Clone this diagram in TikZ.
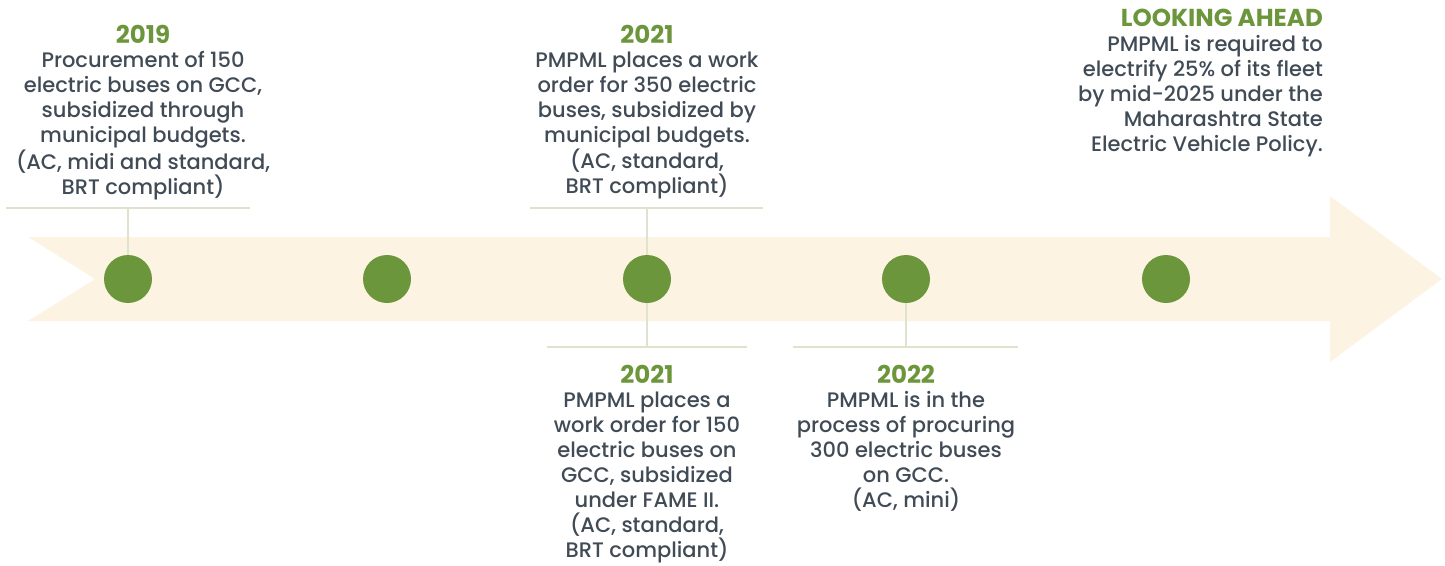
\documentclass[tikz,border=0pt]{standalone}
\usepackage{fontspec}
\setmainfont{Poppins}[UprightFont={* Medium}, BoldFont={* Bold}]
\usepackage{tikz}
\usetikzlibrary{positioning}
\definecolor{green}{RGB}{108,150,60}
\definecolor{slate}{RGB}{64,75,86}
\definecolor{color-arrow}{RGB}{253,243,227}
\definecolor{color-rule}{RGB}{221,227,205}

\begin{document}
\begin{tikzpicture}[x=1pt, y=-1pt, node distance=8pt,
  dot/.style={circle,inner sep=0pt,minimum size=48pt,fill=green,name=#1},
  year/.style={text=green,font=\fontsize{24.5}{28}\selectfont\bfseries,inner sep=0pt},
  body/.style={text=slate,font=\fontsize{21}{25}\selectfont,align=center,inner sep=0pt},
  rule/.style={color-rule,line width=1.3pt}]

\useasboundingbox (0,0) rectangle (1445,565);

% timeline arrow
\fill[color-arrow] (28,237) -- (1330,237) -- (1330,196) -- (1442,279) -- (1330,362)
  -- (1330,321) -- (28,321) -- (95,279) -- cycle;

\coordinate (r1a) at (6,208);
\coordinate (r1b) at (250,208);
\coordinate (r1) at (128,208);
\coordinate (r3a) at (530,208);
\coordinate (r3b) at (763,208);
\coordinate (r3) at (647,208);
\coordinate (r4a) at (547,347);
\coordinate (r4b) at (747,347);
\coordinate (r4) at (647,347);
\coordinate (r5a) at (793,347);
\coordinate (r5b) at (1018,347);
\coordinate (r5) at (906,347);

\node [dot=d1] at (128,279) {};
\node [dot=d2] at (387,279) {};
\node [dot=d3] at (647,279) {};
\node [dot=d4] at (906,279) {};
\node [dot=d5] at (1166,279) {};

\draw [rule] (r1a) -- (r1b);
\draw [rule] (r1) -- (d1);
\draw [rule] (r3a) -- (r3b);
\draw [rule] (r3) -- (d3);
\draw [rule] (d3) -- (r4);
\draw [rule] (r4a) -- (r4b);
\draw [rule] (d4) -- (r5);
\draw [rule] (r5a) -- (r5b);

% 2019
\node [year] (y2019) at (143,34) {2019};
\node [body, below = of y2019] (t2019) {Procurement of 150\\electric buses on GCC,\\subsidized through\\municipal budgets.\\(AC, midi and standard,\\BRT compliant)};

% 2021, above
\node [year] (y2021a) at (647,34) {2021};
\node [body, below = of y2021a] (t2021a) {PMPML places a work\\order for 350 electric\\buses, subsidized by\\municipal budgets.\\(AC, standard,\\BRT compliant)};

% 2021, below
\node [year] (y2021b) at (647,374) {2021};
\node [body, below = of y2021b] (t2021b) {PMPML places a\\work order for 150\\electric buses on\\GCC, subsidized\\under FAME II.\\(AC, standard,\\BRT compliant)};

% 2022
\node [year] (y2022) at (906,374) {2022};
\node [body, below = of y2022] (t2022) {PMPML is in the\\process of procuring\\300 electric buses\\on GCC.\\(AC, mini)};

% looking ahead
\node [year, anchor=east] (ahead) at (1323,18) {LOOKING AHEAD};
\node [body, align=right, below = of ahead.south east, anchor=north east] (tahead) {PMPML is required to\\electrify 25\% of its fleet\\by mid-2025 under the\\Maharashtra State\\Electric Vehicle Policy.};

\end{tikzpicture}
\end{document}
